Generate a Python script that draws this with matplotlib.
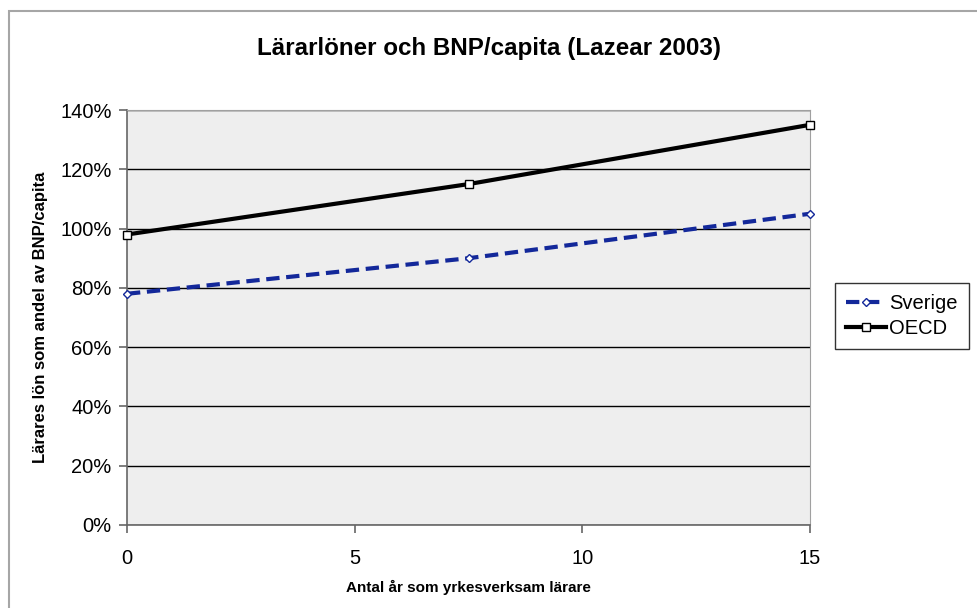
import matplotlib.pyplot as plt
from matplotlib.patches import Rectangle

plt.rcParams.update({
    "font.family": ["Liberation Sans", "DejaVu Sans"],
    "font.size": 14.5,
})

YEARS = [0, 7.5, 15]
SVERIGE = [78, 90, 105]
OECD = [98, 115, 135]
YTICKS = [0, 20, 40, 60, 80, 100, 120, 140]
XTICKS = [0, 5, 10, 15]

C_SWE = "#13289A"

fig = plt.figure(figsize=(9.78, 6.08), dpi=100)
# chart-area border (Excel style), running off the right/bottom edges
fig.patches.append(Rectangle((8.5 / 978, -0.05), 1.2, 1 - 10.5 / 608 + 0.05,
                             transform=fig.transFigure, fill=False,
                             edgecolor="#a6a6a6", linewidth=1.5))

ax = fig.add_axes([127 / 978, 1 - 525 / 608, 683 / 978, 415 / 608])
ax.set_facecolor("#eeeeee")

ax.plot(YEARS, SVERIGE, color=C_SWE, lw=3, ls=(0, (3.2, 1.6)),
        marker="D", ms=4.5, mfc="white", mec=C_SWE, mew=1, label="Sverige",
        clip_on=False, zorder=3)
ax.plot(YEARS, OECD, color="black", lw=3, marker="s", ms=6, mfc="white",
        mec="black", mew=1, label="OECD", clip_on=False, zorder=3)

ax.set_xlim(0, 15)
ax.set_ylim(0, 140)
ax.set_xticks(XTICKS)
ax.set_yticks(YTICKS)
ax.set_yticklabels([f"{v}%" for v in YTICKS])
ax.yaxis.grid(True, color="black", lw=1)
ax.set_axisbelow(True)

for s in ("top", "right"):
    ax.spines[s].set_color("#a0a0a0")
for s in ("left", "bottom"):
    ax.spines[s].set_color("#666666")
    ax.spines[s].set_linewidth(1.2)
ax.tick_params(length=6, width=1.2, color="#666666", labelsize=14.5, pad=5)
ax.tick_params(axis="x", pad=11)

ax.set_xlabel("Antal år som yrkesverksam lärare", fontsize=11,
              fontweight="bold", labelpad=9)
ax.set_ylabel("Lärares lön som andel av BNP/capita", fontsize=12,
              fontweight="bold", labelpad=9)
fig.text(0.5, 1 - 49 / 608, "Lärarlöner och BNP/capita (Lazear 2003)",
         ha="center", va="center", fontsize=17.4, fontweight="bold")

leg = fig.legend(loc="center left", bbox_to_anchor=(835 / 978, 1 - 316 / 608),
                 fontsize=14.5, frameon=True, fancybox=False, edgecolor="black",
                 handlelength=2.0, handletextpad=0.15, borderpad=0.55,
                 labelspacing=0.3, borderaxespad=0)
leg.get_frame().set_linewidth(1)

fig.savefig("out.png", dpi=100)
